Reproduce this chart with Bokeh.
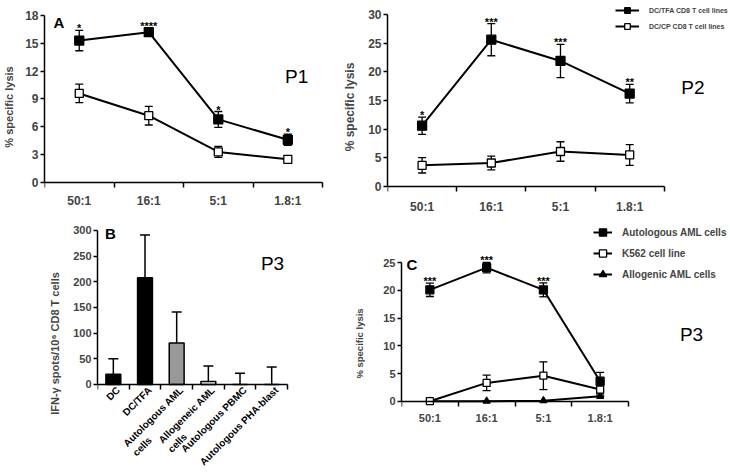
import math
from bokeh.plotting import figure
from bokeh.models import (Range1d, FixedTicker, Whisker, TeeHead, ColumnDataSource,
                          Label, LabelSet, Legend, LegendItem)
from bokeh.layouts import row, column
from bokeh.embed import file_html
from bokeh.resources import INLINE
from bokeh.core.properties import value

FONT = "Liberation Sans"

# ---------------- data ----------------
ratios = ["50:1", "16:1", "5:1", "1.8:1"]

# Panel A (P1)
p1_tfa = [15.3, 16.2, 6.8, 4.6]
p1_tfa_sd = [1.1, 0.4, 0.85, 0.6]
p1_cp = [9.6, 7.2, 3.3, 2.5]
p1_cp_sd = [1.0, 1.0, 0.6, 0.35]
p1_sig = ["*", "****", "*", "*"]

# Panel P2
p2_tfa = [10.6, 25.6, 21.9, 16.2]
p2_tfa_sd = [1.5, 2.8, 2.9, 1.6]
p2_cp = [3.7, 4.1, 6.1, 5.5]
p2_cp_sd = [1.35, 1.2, 1.7, 1.8]
p2_sig = ["*", "***", "***", "**"]

# Panel B (P3 ELISPOT)
b_targets = ["DC", "DC/TFA", "Autologous AML\ncells", "Allogeneic AML\ncells",
             "Autologous PBMC", "Autologous PHA-blast"]
b_spots = [20, 208, 81, 6, 0, 0]
b_sd = [30, 83, 60, 30, 22, 34]
b_colors = ["black", "black", "#999999", "white", "white", "white"]

# Panel C (P3 lysis)
c_auto = [20.1, 24.1, 20.1, 3.6]
c_auto_sd = [1.2, 0.95, 1.25, 1.6]
c_k562 = [0.0, 3.3, 4.6, 2.1]
c_k562_sd = [0.0, 1.4, 2.5, 0.8]
c_allo = [0.0, 0.0, 0.1, 0.9]
c_sig = ["***", "***", "***", ""]

legend_p2 = ["DC/TFA CD8 T cell lines", "DC/CP CD8 T cell lines"]
legend_c = ["Autologous AML cells", "K562 cell line", "Allogenic AML cells"]


# ---------------- helpers ----------------
def make_fig(w, h, xr, yr, bl):
    p = figure(width=w, height=h, x_range=Range1d(*xr), y_range=Range1d(*yr),
               output_backend="svg", toolbar_location=None,
               min_border_left=bl, min_border_right=0, min_border_top=0,
               min_border_bottom=0)
    p.outline_line_color = None
    p.xgrid.visible = False
    p.ygrid.visible = False
    p.background_fill_color = "white"
    p.border_fill_color = "white"
    return p


def style_y(p, ticks, label, label_size, tick_size, standoff):
    ax = p.yaxis[0]
    ax.ticker = FixedTicker(ticks=ticks, minor_ticks=[])
    ax.bounds = (ticks[0], ticks[-1])
    ax.axis_label = label
    ax.axis_label_text_font = FONT
    ax.axis_label_text_font_style = "bold"
    ax.axis_label_text_font_size = label_size
    ax.axis_label_standoff = standoff
    ax.major_label_text_font = FONT
    ax.major_label_text_font_style = "bold"
    ax.major_label_text_font_size = tick_size
    ax.major_label_standoff = 2
    ax.major_tick_out = 4
    ax.major_tick_in = 0
    ax.minor_tick_line_color = None
    ax.axis_line_width = 1.5
    ax.major_tick_line_width = 1.5


def style_x(p, labels, tick_size, standoff):
    ax = p.xaxis[0]
    n = len(labels)
    centers = list(range(1, n + 1))
    ax.ticker = FixedTicker(ticks=centers, minor_ticks=[i + 0.5 for i in range(0, n + 1)])
    ax.major_label_overrides = {c: lab for c, lab in zip(centers, labels)}
    ax.bounds = (0.5, n + 0.5)
    ax.fixed_location = 0
    ax.major_label_text_font = FONT
    ax.major_label_text_font_style = "bold"
    ax.major_label_text_font_size = tick_size
    ax.major_label_standoff = standoff
    ax.major_tick_in = 0
    ax.major_tick_out = 0
    ax.major_tick_line_color = None
    ax.minor_tick_in = 0
    ax.minor_tick_out = 5
    ax.minor_tick_line_width = 1.5
    ax.axis_line_width = 1.5


def add_series(p, xs, ys, sd, marker, size, fill, cap=8):
    src = ColumnDataSource(dict(x=xs, y=ys,
                                lo=[v - e for v, e in zip(ys, sd)],
                                hi=[v + e for v, e in zip(ys, sd)]))
    w = Whisker(base="x", lower="lo", upper="hi", source=src, level="underlay",
                line_color="black", line_width=1.3,
                upper_head=TeeHead(size=cap, line_width=1.3, line_color="black"),
                lower_head=TeeHead(size=cap, line_width=1.3, line_color="black"))
    p.add_layout(w)
    ln = p.line("x", "y", source=src, line_color="black", line_width=2)
    mk = p.scatter("x", "y", source=src, marker=marker, size=size, fill_color=fill,
                   line_color="black", line_width=1.3)
    return ln, mk


def add_sig(p, xs, ys, sd, sig, size="11px"):
    p.text(x=xs, y=[v + e for v, e in zip(ys, sd)], text=sig,
           text_font=value(FONT), text_font_style="bold", text_font_size=size,
           text_align="center", text_baseline="alphabetic", y_offset=-2, text_color="black")


def add_label(p, x, y, text, size, bold=False):
    p.add_layout(Label(x=x, y=y, text=text, text_font=FONT, text_font_size=size,
                       text_font_style="bold" if bold else "normal",
                       text_align="center", text_baseline="middle", text_color="black"))


def make_legend(items, loc, gw, gh, spacing, size):
    return Legend(items=items, location=loc, glyph_width=gw, glyph_height=gh,
                  label_height=gh, label_standoff=10, spacing=spacing, padding=0,
                  margin=0, border_line_color=None, background_fill_alpha=0,
                  label_text_font=FONT, label_text_font_style="bold",
                  label_text_font_size=size)


xs4 = list(range(1, len(ratios) + 1))

# ---------------- Panel A (P1) ----------------
pa = make_fig(340, 213, (0.5, 4.758), (-3.341, 19.616), 43)
style_y(pa, [0, 3, 6, 9, 12, 15, 18], "% specific lysis", "11px", "12px", 7)
style_x(pa, ratios, "12px", 6)
add_series(pa, xs4, p1_cp, p1_cp_sd, "square", 8, "white")
add_series(pa, xs4, p1_tfa, p1_tfa_sd, "square", 9, "black")
add_sig(pa, xs4, p1_tfa, p1_tfa_sd, p1_sig)
add_label(pa, 0.708, 17.25, "A", "15px", bold=True)
add_label(pa, 4.127, 11.42, "P1", "19px")

# ---------------- Panel P2 ----------------
pb2 = make_fig(390, 213, (0.5, 5.457), (-4.71, 32.44), 43)
style_y(pb2, [0, 5, 10, 15, 20, 25, 30], "% specific lysis", "12px", "12px", 8)
style_x(pb2, ratios, "12px", 9)
l2, m2 = add_series(pb2, xs4, p2_cp, p2_cp_sd, "square", 8, "white")
l1, m1 = add_series(pb2, xs4, p2_tfa, p2_tfa_sd, "square", 9, "black")
add_sig(pb2, xs4, p2_tfa, p2_tfa_sd, p2_sig)
add_label(pb2, 4.914, 17.27, "P2", "19px")
pb2.add_layout(make_legend([LegendItem(label=legend_p2[0], renderers=[l1, m1]),
                            LegendItem(label=legend_p2[1], renderers=[l2, m2])],
                           (228, 180), 24, 14, 2, "7px"))

# ---------------- Panel B ----------------
bx = list(range(1, len(b_targets) + 1))
pbb = make_fig(330, 260, (0.5, 7.857), (-173.4, 333.1), 97)
style_y(pbb, [0, 50, 100, 150, 200, 250, 300], "IFN-\u03b3 spots/10\u2076 CD8 T cells",
        "11px", "11px", 9)
style_x(pbb, [""] * len(b_targets), "0px", 0)
bsrc = ColumnDataSource(dict(x=bx, top=b_spots, hi=[v + e for v, e in zip(b_spots, b_sd)],
                             color=b_colors, base=[0] * len(bx), name=b_targets))
pbb.add_layout(Whisker(base="x", lower="top", upper="hi", source=bsrc, level="underlay",
                       line_color="black", line_width=1.5, lower_head=None,
                       upper_head=TeeHead(size=10, line_width=1.5, line_color="black")))
pbb.vbar(x="x", top="top", width=0.47, source=bsrc, fill_color="color",
         line_color="black", line_width=1.5)
pbb.add_layout(LabelSet(x="x", y="base", text="name", source=bsrc, angle=math.pi / 4,
                        text_align="right", text_baseline="top", x_offset=1, y_offset=0,
                        text_font=value(FONT), text_font_style="bold",
                        text_font_size="10px", text_color="black"))
add_label(pbb, 0.91, 295, "B", "15px", bold=True)
add_label(pbb, 6.026, 235.7, "P3", "19px")

# ---------------- Panel C ----------------
pc = make_fig(400, 260, (0.5, 6.297), (-13.05, 33.88), 71)
style_y(pc, [0, 5, 10, 15, 20, 25], "% specific lysis", "9.5px", "11px", 15)
style_x(pc, ratios, "11px", 6)
r3l, r3m = add_series(pc, xs4, c_allo, [0] * len(c_allo), "triangle", 7, "black")
r2l, r2m = add_series(pc, xs4, c_k562, c_k562_sd, "square", 7, "white")
r1l, r1m = add_series(pc, xs4, c_auto, c_auto_sd, "square", 8, "black")
add_sig(pc, xs4, c_auto, c_auto_sd, c_sig)
add_label(pc, 0.685, 24.67, "C", "15px", bold=True)
add_label(pc, 5.61, 12.04, "P3", "19px")
pc.add_layout(make_legend([LegendItem(label=legend_c[0], renderers=[r1l, r1m]),
                           LegendItem(label=legend_c[1], renderers=[r2l, r2m]),
                           LegendItem(label=legend_c[2], renderers=[r3l, r3m])],
                          (192, 190), 19, 18, 3, "10px"))

layout = column(row(pa, pb2), row(pbb, pc))
open("out.html", "w").write(file_html(layout, INLINE))
